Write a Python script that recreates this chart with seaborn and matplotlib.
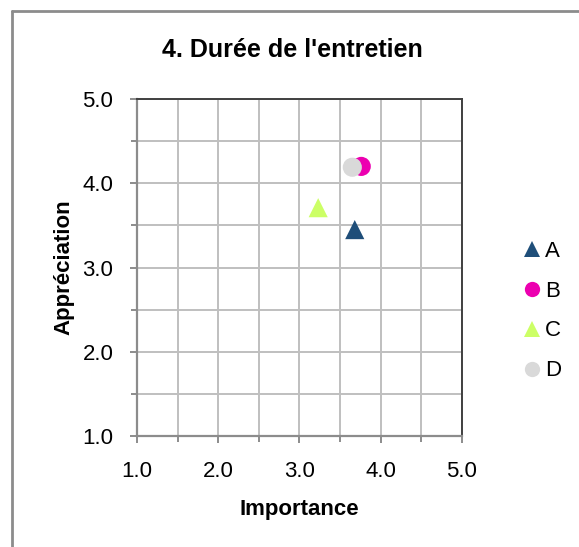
import matplotlib
matplotlib.use("Agg")
import matplotlib.pyplot as plt
import seaborn as sns
import pandas as pd
from matplotlib.lines import Line2D

categories = ["A", "B", "C", "D"]
importance = [3.68, 3.76, 3.23, 3.65]
appreciation = [3.45, 4.20, 3.71, 4.19]
x_ticks = [1.0, 2.0, 3.0, 4.0, 5.0]
y_ticks = [1.0, 2.0, 3.0, 4.0, 5.0]

colors = {"A": "#1F4E79", "B": "#EC00B0", "C": "#CCFF66", "D": "#D9D9D9"}
markers = {"A": "^", "B": "o", "C": "^", "D": "o"}

df = pd.DataFrame({"cat": categories, "Importance": importance, "Appréciation": appreciation})

sns.set_theme(style="white")
plt.rcParams["font.family"] = ["Liberation Sans", "DejaVu Sans"]
plt.rcParams["text.color"] = "black"
plt.rcParams["axes.labelcolor"] = "black"
plt.rcParams["xtick.labelcolor"] = "black"
plt.rcParams["ytick.labelcolor"] = "black"
ts = 16

fig = plt.figure(figsize=(5.79, 5.47), dpi=100)
ax = fig.add_axes([137/579, 1-436/547, (462-137)/579, (436-99)/547])

ax.set_xlim(1, 5)
ax.set_ylim(1, 5)
ax.set_xticks(x_ticks)
ax.set_yticks(y_ticks)
ax.set_xticks([1.5, 2.5, 3.5, 4.5], minor=True)
ax.set_yticks([1.5, 2.5, 3.5, 4.5], minor=True)
ax.set_xticklabels([f"{v:.1f}" for v in x_ticks], fontsize=ts)
ax.set_yticklabels([f"{v:.1f}" for v in y_ticks], fontsize=ts)
ax.grid(True, which="both", color="#BFBFBF", linewidth=1.4, zorder=0)
ax.set_axisbelow(True)
ax.tick_params(axis="both", which="major", direction="out", length=5, width=1.4,
               color="#8C8C8C", bottom=True, left=True)
ax.tick_params(axis="x", which="major", pad=13)
ax.tick_params(axis="y", which="major", pad=12)
ax.tick_params(axis="both", which="minor", direction="out", length=4, width=1.4,
               color="#8C8C8C", bottom=True, left=True)
for s in ["left", "bottom"]:
    ax.spines[s].set_color("#8C8C8C")
    ax.spines[s].set_linewidth(1.6)
for s in ["top", "right"]:
    ax.spines[s].set_color("#404040")
    ax.spines[s].set_linewidth(1.4)

sns.scatterplot(data=df, x="Importance", y="Appréciation", hue="cat", style="cat",
                palette=colors, markers=markers, s=190, linewidth=0, ax=ax,
                legend=False, zorder=3, clip_on=False)

ax.set_xlabel("Importance", fontsize=ts, fontweight="bold", labelpad=12)
ax.set_ylabel("Appréciation", fontsize=ts, fontweight="bold", labelpad=6)
fig.text(292/579, 1-50/547, "4. Durée de l'entretien", fontsize=18, fontweight="bold",
         ha="center", va="center")

handles = [Line2D([0], [0], marker=markers[c], color="none", markerfacecolor=colors[c],
                  markeredgewidth=0, markersize=11, label=c) for c in categories]
leg = fig.legend(handles=handles, loc="center left", bbox_to_anchor=(504/579, 1-311/547),
                 frameon=False, fontsize=ts, handlelength=0.7, handletextpad=0.25,
                 labelspacing=0.85)

fig.add_artist(Line2D([12/579, 12/579], [0, 1-11/547], color="#8C8C8C", linewidth=2,
                      transform=fig.transFigure))
fig.add_artist(Line2D([12/579, 1], [1-11/547, 1-11/547], color="#8C8C8C", linewidth=2,
                      transform=fig.transFigure))

fig.savefig("out.png", dpi=100, facecolor="white")
